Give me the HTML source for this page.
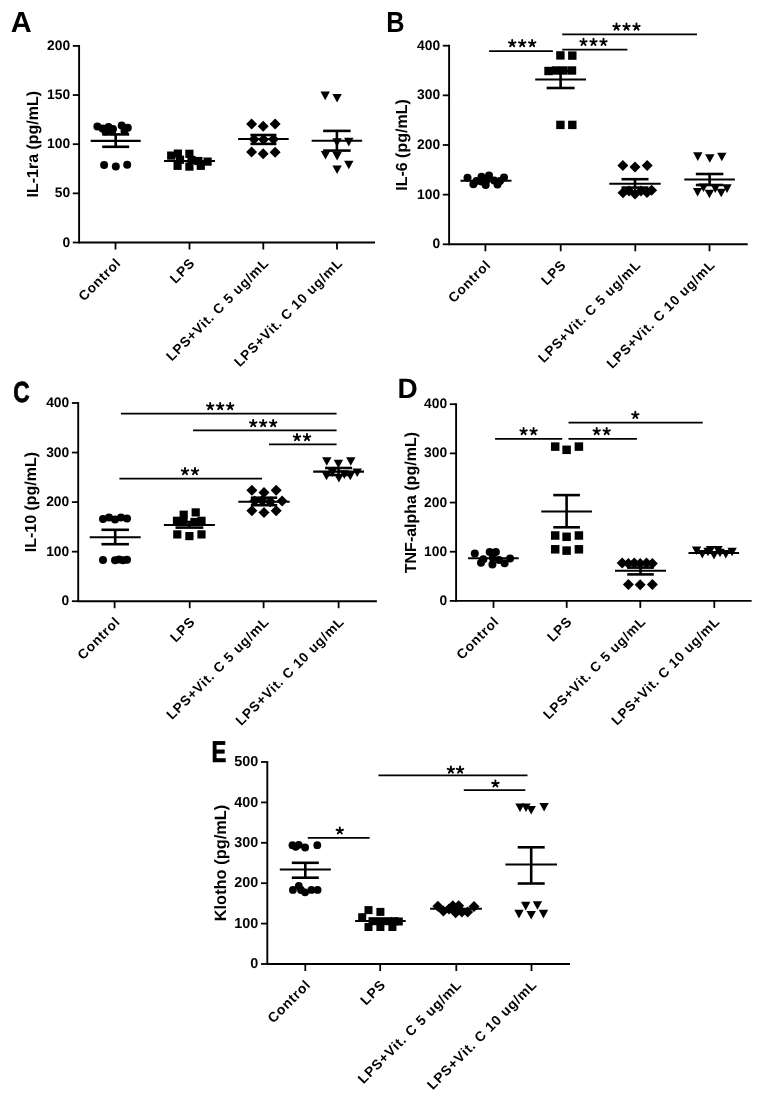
<!DOCTYPE html>
<html><head><meta charset="utf-8"><style>
html,body{margin:0;padding:0;background:#fff;}
svg{display:block;will-change:transform;filter:blur(0.3px);}
text{font-family:"Liberation Sans", sans-serif;fill:#000;stroke:none;text-rendering:geometricPrecision;}
line,.s{stroke:#000;}
</style></head><body>
<svg width="765" height="1100" viewBox="0 0 765 1100" fill="#000" stroke="none">
<rect width="765" height="1100" fill="#fff" stroke="none"/>
<g stroke="none">
</g>
<line x1="79.10" y1="45.00" x2="79.10" y2="243.40" stroke-width="1.9"/>
<line x1="79.10" y1="242.50" x2="375.00" y2="242.50" stroke-width="1.9"/>
<line x1="72.80" y1="242.50" x2="79.10" y2="242.50" stroke-width="1.8"/>
<text x="70.10" y="246.50" font-size="13.8" text-anchor="end" font-weight="bold">0</text>
<line x1="72.80" y1="193.35" x2="79.10" y2="193.35" stroke-width="1.8"/>
<text x="70.10" y="197.35" font-size="13.8" text-anchor="end" font-weight="bold">50</text>
<line x1="72.80" y1="144.20" x2="79.10" y2="144.20" stroke-width="1.8"/>
<text x="70.10" y="148.20" font-size="13.8" text-anchor="end" font-weight="bold">100</text>
<line x1="72.80" y1="95.05" x2="79.10" y2="95.05" stroke-width="1.8"/>
<text x="70.10" y="99.05" font-size="13.8" text-anchor="end" font-weight="bold">150</text>
<line x1="72.80" y1="45.90" x2="79.10" y2="45.90" stroke-width="1.8"/>
<text x="70.10" y="49.90" font-size="13.8" text-anchor="end" font-weight="bold">200</text>
<line x1="115.50" y1="242.50" x2="115.50" y2="249.50" stroke-width="1.8"/>
<line x1="189.50" y1="242.50" x2="189.50" y2="249.50" stroke-width="1.8"/>
<line x1="263.30" y1="242.50" x2="263.30" y2="249.50" stroke-width="1.8"/>
<line x1="337.00" y1="242.50" x2="337.00" y2="249.50" stroke-width="1.8"/>
<text x="121.80" y="263.90" font-size="13.6" text-anchor="end" font-weight="bold" transform="rotate(-45 121.80 263.90)" letter-spacing="0.75">Control</text>
<text x="195.80" y="263.90" font-size="13.6" text-anchor="end" font-weight="bold" transform="rotate(-45 195.80 263.90)" letter-spacing="0.75">LPS</text>
<text x="269.60" y="263.90" font-size="13.6" text-anchor="end" font-weight="bold" transform="rotate(-45 269.60 263.90)" letter-spacing="0.75">LPS+Vit. C 5 ug/mL</text>
<text x="343.30" y="263.90" font-size="13.6" text-anchor="end" font-weight="bold" transform="rotate(-45 343.30 263.90)" letter-spacing="0.75">LPS+Vit. C 10 ug/mL</text>
<text x="38.20" y="144.20" font-size="16" text-anchor="middle" font-weight="bold" transform="rotate(-90 38.20 144.20)">IL-1ra (pg/mL)</text>
<text x="10.80" y="32.00" font-size="29" text-anchor="start" font-weight="bold">A</text>
<line x1="449.10" y1="44.80" x2="449.10" y2="245.20" stroke-width="1.9"/>
<line x1="449.10" y1="244.30" x2="747.70" y2="244.30" stroke-width="1.9"/>
<line x1="442.80" y1="244.30" x2="449.10" y2="244.30" stroke-width="1.8"/>
<text x="440.10" y="248.30" font-size="13.8" text-anchor="end" font-weight="bold">0</text>
<line x1="442.80" y1="194.65" x2="449.10" y2="194.65" stroke-width="1.8"/>
<text x="440.10" y="198.65" font-size="13.8" text-anchor="end" font-weight="bold">100</text>
<line x1="442.80" y1="145.00" x2="449.10" y2="145.00" stroke-width="1.8"/>
<text x="440.10" y="149.00" font-size="13.8" text-anchor="end" font-weight="bold">200</text>
<line x1="442.80" y1="95.35" x2="449.10" y2="95.35" stroke-width="1.8"/>
<text x="440.10" y="99.35" font-size="13.8" text-anchor="end" font-weight="bold">300</text>
<line x1="442.80" y1="45.70" x2="449.10" y2="45.70" stroke-width="1.8"/>
<text x="440.10" y="49.70" font-size="13.8" text-anchor="end" font-weight="bold">400</text>
<line x1="485.40" y1="244.30" x2="485.40" y2="251.30" stroke-width="1.8"/>
<line x1="560.70" y1="244.30" x2="560.70" y2="251.30" stroke-width="1.8"/>
<line x1="635.30" y1="244.30" x2="635.30" y2="251.30" stroke-width="1.8"/>
<line x1="709.50" y1="244.30" x2="709.50" y2="251.30" stroke-width="1.8"/>
<text x="491.70" y="265.70" font-size="13.6" text-anchor="end" font-weight="bold" transform="rotate(-45 491.70 265.70)" letter-spacing="0.75">Control</text>
<text x="567.00" y="265.70" font-size="13.6" text-anchor="end" font-weight="bold" transform="rotate(-45 567.00 265.70)" letter-spacing="0.75">LPS</text>
<text x="641.60" y="265.70" font-size="13.6" text-anchor="end" font-weight="bold" transform="rotate(-45 641.60 265.70)" letter-spacing="0.75">LPS+Vit. C 5 ug/mL</text>
<text x="715.80" y="265.70" font-size="13.6" text-anchor="end" font-weight="bold" transform="rotate(-45 715.80 265.70)" letter-spacing="0.75">LPS+Vit. C 10 ug/mL</text>
<text x="406.60" y="145.00" font-size="16" text-anchor="middle" font-weight="bold" transform="rotate(-90 406.60 145.00)">IL-6 (pg/mL)</text>
<text transform="translate(386.30 32.00) scale(0.87 1)" font-size="29" font-weight="bold">B</text>
<line x1="78.20" y1="402.10" x2="78.20" y2="602.10" stroke-width="1.9"/>
<line x1="78.20" y1="601.20" x2="376.90" y2="601.20" stroke-width="1.9"/>
<line x1="71.90" y1="601.20" x2="78.20" y2="601.20" stroke-width="1.8"/>
<text x="69.20" y="605.20" font-size="13.8" text-anchor="end" font-weight="bold">0</text>
<line x1="71.90" y1="551.65" x2="78.20" y2="551.65" stroke-width="1.8"/>
<text x="69.20" y="555.65" font-size="13.8" text-anchor="end" font-weight="bold">100</text>
<line x1="71.90" y1="502.10" x2="78.20" y2="502.10" stroke-width="1.8"/>
<text x="69.20" y="506.10" font-size="13.8" text-anchor="end" font-weight="bold">200</text>
<line x1="71.90" y1="452.55" x2="78.20" y2="452.55" stroke-width="1.8"/>
<text x="69.20" y="456.55" font-size="13.8" text-anchor="end" font-weight="bold">300</text>
<line x1="71.90" y1="403.00" x2="78.20" y2="403.00" stroke-width="1.8"/>
<text x="69.20" y="407.00" font-size="13.8" text-anchor="end" font-weight="bold">400</text>
<line x1="114.60" y1="601.20" x2="114.60" y2="608.20" stroke-width="1.8"/>
<line x1="189.70" y1="601.20" x2="189.70" y2="608.20" stroke-width="1.8"/>
<line x1="263.60" y1="601.20" x2="263.60" y2="608.20" stroke-width="1.8"/>
<line x1="338.60" y1="601.20" x2="338.60" y2="608.20" stroke-width="1.8"/>
<text x="120.90" y="622.60" font-size="13.6" text-anchor="end" font-weight="bold" transform="rotate(-45 120.90 622.60)" letter-spacing="0.75">Control</text>
<text x="196.00" y="622.60" font-size="13.6" text-anchor="end" font-weight="bold" transform="rotate(-45 196.00 622.60)" letter-spacing="0.75">LPS</text>
<text x="269.90" y="622.60" font-size="13.6" text-anchor="end" font-weight="bold" transform="rotate(-45 269.90 622.60)" letter-spacing="0.75">LPS+Vit. C 5 ug/mL</text>
<text x="344.90" y="622.60" font-size="13.6" text-anchor="end" font-weight="bold" transform="rotate(-45 344.90 622.60)" letter-spacing="0.75">LPS+Vit. C 10 ug/mL</text>
<text x="36.40" y="502.10" font-size="16" text-anchor="middle" font-weight="bold" transform="rotate(-90 36.40 502.10)">IL-10 (pg/mL)</text>
<text transform="translate(13.20 401.50) scale(0.78 1)" font-size="29" font-weight="bold" style="stroke:#000;stroke-width:0.8px">C</text>
<line x1="456.10" y1="403.30" x2="456.10" y2="601.80" stroke-width="1.9"/>
<line x1="456.10" y1="600.90" x2="751.60" y2="600.90" stroke-width="1.9"/>
<line x1="449.80" y1="600.90" x2="456.10" y2="600.90" stroke-width="1.8"/>
<text x="447.10" y="604.90" font-size="13.8" text-anchor="end" font-weight="bold">0</text>
<line x1="449.80" y1="551.73" x2="456.10" y2="551.73" stroke-width="1.8"/>
<text x="447.10" y="555.73" font-size="13.8" text-anchor="end" font-weight="bold">100</text>
<line x1="449.80" y1="502.55" x2="456.10" y2="502.55" stroke-width="1.8"/>
<text x="447.10" y="506.55" font-size="13.8" text-anchor="end" font-weight="bold">200</text>
<line x1="449.80" y1="453.38" x2="456.10" y2="453.38" stroke-width="1.8"/>
<text x="447.10" y="457.38" font-size="13.8" text-anchor="end" font-weight="bold">300</text>
<line x1="449.80" y1="404.20" x2="456.10" y2="404.20" stroke-width="1.8"/>
<text x="447.10" y="408.20" font-size="13.8" text-anchor="end" font-weight="bold">400</text>
<line x1="493.50" y1="600.90" x2="493.50" y2="607.90" stroke-width="1.8"/>
<line x1="566.70" y1="600.90" x2="566.70" y2="607.90" stroke-width="1.8"/>
<line x1="640.30" y1="600.90" x2="640.30" y2="607.90" stroke-width="1.8"/>
<line x1="714.30" y1="600.90" x2="714.30" y2="607.90" stroke-width="1.8"/>
<text x="499.80" y="622.30" font-size="13.6" text-anchor="end" font-weight="bold" transform="rotate(-45 499.80 622.30)" letter-spacing="0.75">Control</text>
<text x="573.00" y="622.30" font-size="13.6" text-anchor="end" font-weight="bold" transform="rotate(-45 573.00 622.30)" letter-spacing="0.75">LPS</text>
<text x="646.60" y="622.30" font-size="13.6" text-anchor="end" font-weight="bold" transform="rotate(-45 646.60 622.30)" letter-spacing="0.75">LPS+Vit. C 5 ug/mL</text>
<text x="720.60" y="622.30" font-size="13.6" text-anchor="end" font-weight="bold" transform="rotate(-45 720.60 622.30)" letter-spacing="0.75">LPS+Vit. C 10 ug/mL</text>
<text x="415.90" y="502.55" font-size="16" text-anchor="middle" font-weight="bold" transform="rotate(-90 415.90 502.55)">TNF-alpha (pg/mL)</text>
<text x="397.60" y="397.70" font-size="28" text-anchor="start" font-weight="bold">D</text>
<line x1="267.30" y1="761.10" x2="267.30" y2="964.90" stroke-width="1.9"/>
<line x1="267.30" y1="964.00" x2="570.00" y2="964.00" stroke-width="1.9"/>
<line x1="261.00" y1="964.00" x2="267.30" y2="964.00" stroke-width="1.8"/>
<text x="258.30" y="968.18" font-size="14.4" text-anchor="end" font-weight="bold">0</text>
<line x1="261.00" y1="923.60" x2="267.30" y2="923.60" stroke-width="1.8"/>
<text x="258.30" y="927.78" font-size="14.4" text-anchor="end" font-weight="bold">100</text>
<line x1="261.00" y1="883.20" x2="267.30" y2="883.20" stroke-width="1.8"/>
<text x="258.30" y="887.38" font-size="14.4" text-anchor="end" font-weight="bold">200</text>
<line x1="261.00" y1="842.80" x2="267.30" y2="842.80" stroke-width="1.8"/>
<text x="258.30" y="846.98" font-size="14.4" text-anchor="end" font-weight="bold">300</text>
<line x1="261.00" y1="802.40" x2="267.30" y2="802.40" stroke-width="1.8"/>
<text x="258.30" y="806.58" font-size="14.4" text-anchor="end" font-weight="bold">400</text>
<line x1="261.00" y1="762.00" x2="267.30" y2="762.00" stroke-width="1.8"/>
<text x="258.30" y="766.18" font-size="14.4" text-anchor="end" font-weight="bold">500</text>
<line x1="305.30" y1="964.00" x2="305.30" y2="971.00" stroke-width="1.8"/>
<line x1="380.20" y1="964.00" x2="380.20" y2="971.00" stroke-width="1.8"/>
<line x1="456.30" y1="964.00" x2="456.30" y2="971.00" stroke-width="1.8"/>
<line x1="531.50" y1="964.00" x2="531.50" y2="971.00" stroke-width="1.8"/>
<text x="311.60" y="985.40" font-size="13.8" text-anchor="end" font-weight="bold" transform="rotate(-45 311.60 985.40)" letter-spacing="0.75">Control</text>
<text x="386.50" y="985.40" font-size="13.8" text-anchor="end" font-weight="bold" transform="rotate(-45 386.50 985.40)" letter-spacing="0.75">LPS</text>
<text x="462.60" y="985.40" font-size="13.8" text-anchor="end" font-weight="bold" transform="rotate(-45 462.60 985.40)" letter-spacing="0.75">LPS+Vit. C 5 ug/mL</text>
<text x="537.80" y="985.40" font-size="13.8" text-anchor="end" font-weight="bold" transform="rotate(-45 537.80 985.40)" letter-spacing="0.75">LPS+Vit. C 10 ug/mL</text>
<text x="225.60" y="863.00" font-size="16.4" text-anchor="middle" font-weight="bold" transform="rotate(-90 225.60 863.00)">Klotho (pg/mL)</text>
<text transform="translate(211.40 761.80) scale(0.74 1)" font-size="30" font-weight="bold" style="stroke:#000;stroke-width:0.7px">E</text>
<circle cx="97.40" cy="126.50" r="4.0"/>
<circle cx="102.50" cy="128.50" r="4.0"/>
<circle cx="108.50" cy="127.00" r="4.0"/>
<circle cx="113.00" cy="129.00" r="4.0"/>
<circle cx="121.70" cy="125.50" r="4.0"/>
<circle cx="127.80" cy="127.80" r="4.0"/>
<circle cx="105.50" cy="131.50" r="4.0"/>
<circle cx="112.00" cy="131.50" r="4.0"/>
<circle cx="124.50" cy="131.00" r="4.0"/>
<circle cx="104.10" cy="165.00" r="4.0"/>
<circle cx="115.80" cy="166.40" r="4.0"/>
<circle cx="127.20" cy="164.80" r="4.0"/>
<line x1="90.70" y1="140.90" x2="140.70" y2="140.90" stroke-width="2.1"/>
<line x1="102.20" y1="134.40" x2="129.20" y2="134.40" stroke-width="2.6"/>
<line x1="102.20" y1="146.80" x2="129.20" y2="146.80" stroke-width="2.6"/>
<line x1="115.70" y1="134.40" x2="115.70" y2="146.80" stroke-width="2.6"/>
<rect x="167.10" y="151.50" width="8.2" height="8.2"/>
<rect x="173.80" y="149.50" width="8.2" height="8.2"/>
<rect x="173.50" y="161.70" width="8.2" height="8.2"/>
<rect x="185.30" y="149.70" width="8.2" height="8.2"/>
<rect x="185.30" y="162.50" width="8.2" height="8.2"/>
<rect x="196.70" y="161.70" width="8.2" height="8.2"/>
<rect x="203.50" y="157.50" width="8.2" height="8.2"/>
<rect x="194.30" y="156.90" width="8.2" height="8.2"/>
<rect x="175.90" y="155.60" width="8.2" height="8.2"/>
<rect x="187.40" y="155.90" width="8.2" height="8.2"/>
<line x1="164.00" y1="160.90" x2="215.00" y2="160.90" stroke-width="2.0"/>
<path d="M251.60 118.60L257.10 124.10L251.60 129.60L246.10 124.10Z"/>
<path d="M263.20 120.70L268.70 126.20L263.20 131.70L257.70 126.20Z"/>
<path d="M275.10 118.60L280.60 124.10L275.10 129.60L269.60 124.10Z"/>
<path d="M251.60 146.50L257.10 152.00L251.60 157.50L246.10 152.00Z"/>
<path d="M263.20 148.30L268.70 153.80L263.20 159.30L257.70 153.80Z"/>
<path d="M275.10 146.70L280.60 152.20L275.10 157.70L269.60 152.20Z"/>
<path d="M254.00 133.70L259.50 139.20L254.00 144.70L248.50 139.20Z"/>
<path d="M263.50 134.00L269.00 139.50L263.50 145.00L258.00 139.50Z"/>
<path d="M273.50 133.70L279.00 139.20L273.50 144.70L268.00 139.20Z"/>
<line x1="238.10" y1="139.00" x2="288.70" y2="139.00" stroke-width="2.1"/>
<line x1="250.40" y1="135.00" x2="276.40" y2="135.00" stroke-width="2.6"/>
<line x1="250.40" y1="143.90" x2="276.40" y2="143.90" stroke-width="2.6"/>
<line x1="263.40" y1="135.00" x2="263.40" y2="143.90" stroke-width="2.6"/>
<path d="M320.50 91.60L329.90 91.60L325.20 100.20Z"/>
<path d="M332.40 93.90L341.80 93.90L337.10 102.50Z"/>
<path d="M344.10 137.80L353.50 137.80L348.80 146.40Z"/>
<path d="M332.30 138.20L341.70 138.20L337.00 146.80Z"/>
<path d="M320.80 151.00L330.20 151.00L325.50 159.60Z"/>
<path d="M332.40 152.00L341.80 152.00L337.10 160.60Z"/>
<path d="M344.10 160.70L353.50 160.70L348.80 169.30Z"/>
<path d="M332.40 165.40L341.80 165.40L337.10 174.00Z"/>
<line x1="311.65" y1="140.80" x2="362.15" y2="140.80" stroke-width="2.1"/>
<line x1="323.15" y1="130.90" x2="350.65" y2="130.90" stroke-width="2.6"/>
<line x1="323.15" y1="150.60" x2="350.65" y2="150.60" stroke-width="2.6"/>
<line x1="336.90" y1="130.90" x2="336.90" y2="150.60" stroke-width="2.6"/>
<circle cx="467.50" cy="177.80" r="4.0"/>
<circle cx="481.50" cy="176.80" r="4.0"/>
<circle cx="489.00" cy="175.60" r="4.0"/>
<circle cx="504.00" cy="177.40" r="4.0"/>
<circle cx="473.40" cy="184.20" r="4.0"/>
<circle cx="485.70" cy="185.10" r="4.0"/>
<circle cx="497.50" cy="184.60" r="4.0"/>
<circle cx="486.40" cy="180.40" r="4.0"/>
<circle cx="494.20" cy="180.40" r="4.0"/>
<circle cx="476.50" cy="181.00" r="4.0"/>
<circle cx="481.50" cy="181.50" r="4.0"/>
<circle cx="500.00" cy="181.00" r="4.0"/>
<line x1="460.50" y1="180.80" x2="511.50" y2="180.80" stroke-width="2.0"/>
<rect x="556.20" y="51.20" width="8.4" height="8.4"/>
<rect x="568.10" y="51.40" width="8.4" height="8.4"/>
<rect x="544.30" y="66.80" width="8.4" height="8.4"/>
<rect x="551.80" y="66.30" width="8.4" height="8.4"/>
<rect x="559.30" y="66.30" width="8.4" height="8.4"/>
<rect x="567.80" y="66.30" width="8.4" height="8.4"/>
<rect x="556.20" y="120.70" width="8.4" height="8.4"/>
<rect x="568.10" y="120.70" width="8.4" height="8.4"/>
<line x1="535.20" y1="79.50" x2="586.00" y2="79.50" stroke-width="2.1"/>
<line x1="546.60" y1="71.00" x2="574.60" y2="71.00" stroke-width="2.6"/>
<line x1="546.60" y1="88.00" x2="574.60" y2="88.00" stroke-width="2.6"/>
<line x1="560.60" y1="71.00" x2="560.60" y2="88.00" stroke-width="2.6"/>
<path d="M622.90 160.00L628.40 165.50L622.90 171.00L617.40 165.50Z"/>
<path d="M635.00 161.60L640.50 167.10L635.00 172.60L629.50 167.10Z"/>
<path d="M647.20 160.00L652.70 165.50L647.20 171.00L641.70 165.50Z"/>
<path d="M623.00 187.30L628.50 192.80L623.00 198.30L617.50 192.80Z"/>
<path d="M629.00 185.50L634.50 191.00L629.00 196.50L623.50 191.00Z"/>
<path d="M635.00 188.50L640.50 194.00L635.00 199.50L629.50 194.00Z"/>
<path d="M641.00 185.50L646.50 191.00L641.00 196.50L635.50 191.00Z"/>
<path d="M647.00 187.00L652.50 192.50L647.00 198.00L641.50 192.50Z"/>
<path d="M651.60 184.70L657.10 190.20L651.60 195.70L646.10 190.20Z"/>
<line x1="609.30" y1="183.70" x2="660.70" y2="183.70" stroke-width="2.1"/>
<line x1="621.50" y1="179.20" x2="648.50" y2="179.20" stroke-width="2.6"/>
<line x1="621.50" y1="187.60" x2="648.50" y2="187.60" stroke-width="2.6"/>
<line x1="635.00" y1="179.20" x2="635.00" y2="187.60" stroke-width="2.6"/>
<path d="M693.10 152.30L702.50 152.30L697.80 160.90Z"/>
<path d="M705.10 154.20L714.50 154.20L709.80 162.80Z"/>
<path d="M717.10 152.70L726.50 152.70L721.80 161.30Z"/>
<path d="M692.90 187.90L702.30 187.90L697.60 196.50Z"/>
<path d="M704.70 189.70L714.10 189.70L709.40 198.30Z"/>
<path d="M716.50 188.70L725.90 188.70L721.20 197.30Z"/>
<path d="M722.30 184.30L731.70 184.30L727.00 192.90Z"/>
<path d="M698.80 183.50L708.20 183.50L703.50 192.10Z"/>
<path d="M710.60 184.30L720.00 184.30L715.30 192.90Z"/>
<line x1="684.30" y1="179.50" x2="734.90" y2="179.50" stroke-width="2.1"/>
<line x1="695.85" y1="174.00" x2="723.35" y2="174.00" stroke-width="2.6"/>
<line x1="695.85" y1="185.00" x2="723.35" y2="185.00" stroke-width="2.6"/>
<line x1="709.60" y1="174.00" x2="709.60" y2="185.00" stroke-width="2.6"/>
<line x1="489.10" y1="51.10" x2="552.90" y2="51.10" stroke-width="1.7"/>
<path class="s" d="M512.20 43.40L512.20 40.00M512.20 43.40L515.43 42.35M512.20 43.40L514.20 46.15M512.20 43.40L510.20 46.15M512.20 43.40L508.97 42.35" fill="none" stroke-width="1.9" stroke-linecap="round"/>
<path class="s" d="M522.20 43.40L522.20 40.00M522.20 43.40L525.43 42.35M522.20 43.40L524.20 46.15M522.20 43.40L520.20 46.15M522.20 43.40L518.97 42.35" fill="none" stroke-width="1.9" stroke-linecap="round"/>
<path class="s" d="M532.20 43.40L532.20 40.00M532.20 43.40L535.43 42.35M532.20 43.40L534.20 46.15M532.20 43.40L530.20 46.15M532.20 43.40L528.97 42.35" fill="none" stroke-width="1.9" stroke-linecap="round"/>
<line x1="562.20" y1="49.60" x2="627.40" y2="49.60" stroke-width="1.7"/>
<path class="s" d="M583.50 42.20L583.50 38.80M583.50 42.20L586.73 41.15M583.50 42.20L585.50 44.95M583.50 42.20L581.50 44.95M583.50 42.20L580.27 41.15" fill="none" stroke-width="1.9" stroke-linecap="round"/>
<path class="s" d="M593.50 42.20L593.50 38.80M593.50 42.20L596.73 41.15M593.50 42.20L595.50 44.95M593.50 42.20L591.50 44.95M593.50 42.20L590.27 41.15" fill="none" stroke-width="1.9" stroke-linecap="round"/>
<path class="s" d="M603.50 42.20L603.50 38.80M603.50 42.20L606.73 41.15M603.50 42.20L605.50 44.95M603.50 42.20L601.50 44.95M603.50 42.20L600.27 41.15" fill="none" stroke-width="1.9" stroke-linecap="round"/>
<line x1="562.20" y1="34.40" x2="697.00" y2="34.40" stroke-width="1.7"/>
<path class="s" d="M616.50 26.90L616.50 23.50M616.50 26.90L619.73 25.85M616.50 26.90L618.50 29.65M616.50 26.90L614.50 29.65M616.50 26.90L613.27 25.85" fill="none" stroke-width="1.9" stroke-linecap="round"/>
<path class="s" d="M626.50 26.90L626.50 23.50M626.50 26.90L629.73 25.85M626.50 26.90L628.50 29.65M626.50 26.90L624.50 29.65M626.50 26.90L623.27 25.85" fill="none" stroke-width="1.9" stroke-linecap="round"/>
<path class="s" d="M636.50 26.90L636.50 23.50M636.50 26.90L639.73 25.85M636.50 26.90L638.50 29.65M636.50 26.90L634.50 29.65M636.50 26.90L633.27 25.85" fill="none" stroke-width="1.9" stroke-linecap="round"/>
<circle cx="103.00" cy="519.00" r="4.0"/>
<circle cx="109.00" cy="517.60" r="4.0"/>
<circle cx="115.00" cy="519.40" r="4.0"/>
<circle cx="121.00" cy="517.60" r="4.0"/>
<circle cx="127.00" cy="518.60" r="4.0"/>
<circle cx="103.00" cy="560.00" r="4.0"/>
<circle cx="115.00" cy="560.30" r="4.0"/>
<circle cx="119.00" cy="559.60" r="4.0"/>
<circle cx="123.00" cy="560.30" r="4.0"/>
<circle cx="127.00" cy="559.80" r="4.0"/>
<line x1="89.70" y1="537.20" x2="140.70" y2="537.20" stroke-width="2.1"/>
<line x1="101.45" y1="529.80" x2="128.95" y2="529.80" stroke-width="2.6"/>
<line x1="101.45" y1="544.20" x2="128.95" y2="544.20" stroke-width="2.6"/>
<line x1="115.20" y1="529.80" x2="115.20" y2="544.20" stroke-width="2.6"/>
<rect x="179.60" y="510.60" width="8.2" height="8.2"/>
<rect x="191.60" y="508.30" width="8.2" height="8.2"/>
<rect x="172.90" y="516.70" width="8.2" height="8.2"/>
<rect x="197.40" y="516.70" width="8.2" height="8.2"/>
<rect x="179.40" y="517.90" width="8.2" height="8.2"/>
<rect x="190.40" y="517.90" width="8.2" height="8.2"/>
<rect x="173.20" y="530.30" width="8.2" height="8.2"/>
<rect x="185.30" y="532.00" width="8.2" height="8.2"/>
<rect x="197.40" y="530.30" width="8.2" height="8.2"/>
<line x1="163.90" y1="525.00" x2="214.90" y2="525.00" stroke-width="2.1"/>
<line x1="175.50" y1="522.00" x2="203.30" y2="522.00" stroke-width="2.6"/>
<line x1="175.50" y1="527.60" x2="203.30" y2="527.60" stroke-width="2.6"/>
<line x1="189.40" y1="522.00" x2="189.40" y2="527.60" stroke-width="2.6"/>
<path d="M251.90 484.80L257.40 490.30L251.90 495.80L246.40 490.30Z"/>
<path d="M264.00 487.10L269.50 492.60L264.00 498.10L258.50 492.60Z"/>
<path d="M276.20 484.80L281.70 490.30L276.20 495.80L270.70 490.30Z"/>
<path d="M282.10 495.40L287.60 500.90L282.10 506.40L276.60 500.90Z"/>
<path d="M251.90 505.20L257.40 510.70L251.90 516.20L246.40 510.70Z"/>
<path d="M264.00 507.10L269.50 512.60L264.00 518.10L258.50 512.60Z"/>
<path d="M276.20 505.20L281.70 510.70L276.20 516.20L270.70 510.70Z"/>
<path d="M254.60 495.40L260.10 500.90L254.60 506.40L249.10 500.90Z"/>
<path d="M270.30 496.20L275.80 501.70L270.30 507.20L264.80 501.70Z"/>
<path d="M262.00 495.00L267.50 500.50L262.00 506.00L256.50 500.50Z"/>
<line x1="238.30" y1="501.70" x2="289.70" y2="501.70" stroke-width="2.1"/>
<line x1="250.80" y1="497.70" x2="277.20" y2="497.70" stroke-width="2.6"/>
<line x1="250.80" y1="505.20" x2="277.20" y2="505.20" stroke-width="2.6"/>
<line x1="264.00" y1="497.70" x2="264.00" y2="505.20" stroke-width="2.6"/>
<path d="M322.10 457.20L331.50 457.20L326.80 465.80Z"/>
<path d="M333.70 459.70L343.10 459.70L338.40 468.30Z"/>
<path d="M346.10 457.20L355.50 457.20L350.80 465.80Z"/>
<path d="M321.80 471.70L331.20 471.70L326.50 480.30Z"/>
<path d="M334.20 473.90L343.60 473.90L338.90 482.50Z"/>
<path d="M345.60 471.70L355.00 471.70L350.30 480.30Z"/>
<path d="M327.70 468.40L337.10 468.40L332.40 477.00Z"/>
<path d="M339.60 470.30L349.00 470.30L344.30 478.90Z"/>
<path d="M352.50 468.40L361.90 468.40L357.20 477.00Z"/>
<line x1="313.20" y1="471.60" x2="364.00" y2="471.60" stroke-width="2.1"/>
<line x1="325.10" y1="468.00" x2="352.10" y2="468.00" stroke-width="2.6"/>
<line x1="325.10" y1="475.00" x2="352.10" y2="475.00" stroke-width="2.6"/>
<line x1="338.60" y1="468.00" x2="338.60" y2="475.00" stroke-width="2.6"/>
<line x1="121.00" y1="413.60" x2="336.60" y2="413.60" stroke-width="1.7"/>
<path class="s" d="M210.20 406.40L210.20 403.00M210.20 406.40L213.43 405.35M210.20 406.40L212.20 409.15M210.20 406.40L208.20 409.15M210.20 406.40L206.97 405.35" fill="none" stroke-width="1.9" stroke-linecap="round"/>
<path class="s" d="M220.20 406.40L220.20 403.00M220.20 406.40L223.43 405.35M220.20 406.40L222.20 409.15M220.20 406.40L218.20 409.15M220.20 406.40L216.97 405.35" fill="none" stroke-width="1.9" stroke-linecap="round"/>
<path class="s" d="M230.20 406.40L230.20 403.00M230.20 406.40L233.43 405.35M230.20 406.40L232.20 409.15M230.20 406.40L228.20 409.15M230.20 406.40L226.97 405.35" fill="none" stroke-width="1.9" stroke-linecap="round"/>
<line x1="193.10" y1="430.40" x2="336.60" y2="430.40" stroke-width="1.7"/>
<path class="s" d="M253.20 423.40L253.20 420.00M253.20 423.40L256.43 422.35M253.20 423.40L255.20 426.15M253.20 423.40L251.20 426.15M253.20 423.40L249.97 422.35" fill="none" stroke-width="1.9" stroke-linecap="round"/>
<path class="s" d="M263.20 423.40L263.20 420.00M263.20 423.40L266.43 422.35M263.20 423.40L265.20 426.15M263.20 423.40L261.20 426.15M263.20 423.40L259.97 422.35" fill="none" stroke-width="1.9" stroke-linecap="round"/>
<path class="s" d="M273.20 423.40L273.20 420.00M273.20 423.40L276.43 422.35M273.20 423.40L275.20 426.15M273.20 423.40L271.20 426.15M273.20 423.40L269.97 422.35" fill="none" stroke-width="1.9" stroke-linecap="round"/>
<line x1="269.00" y1="444.30" x2="336.60" y2="444.30" stroke-width="1.7"/>
<path class="s" d="M297.00 437.40L297.00 434.00M297.00 437.40L300.23 436.35M297.00 437.40L299.00 440.15M297.00 437.40L295.00 440.15M297.00 437.40L293.77 436.35" fill="none" stroke-width="1.9" stroke-linecap="round"/>
<path class="s" d="M307.00 437.40L307.00 434.00M307.00 437.40L310.23 436.35M307.00 437.40L309.00 440.15M307.00 437.40L305.00 440.15M307.00 437.40L303.77 436.35" fill="none" stroke-width="1.9" stroke-linecap="round"/>
<line x1="119.40" y1="478.70" x2="262.00" y2="478.70" stroke-width="1.7"/>
<path class="s" d="M185.00 471.40L185.00 468.00M185.00 471.40L188.23 470.35M185.00 471.40L187.00 474.15M185.00 471.40L183.00 474.15M185.00 471.40L181.77 470.35" fill="none" stroke-width="1.9" stroke-linecap="round"/>
<path class="s" d="M195.00 471.40L195.00 468.00M195.00 471.40L198.23 470.35M195.00 471.40L197.00 474.15M195.00 471.40L193.00 474.15M195.00 471.40L191.77 470.35" fill="none" stroke-width="1.9" stroke-linecap="round"/>
<circle cx="474.80" cy="553.40" r="4.0"/>
<circle cx="489.70" cy="551.90" r="4.0"/>
<circle cx="495.90" cy="551.90" r="4.0"/>
<circle cx="510.10" cy="558.50" r="4.0"/>
<circle cx="481.00" cy="562.80" r="4.0"/>
<circle cx="492.40" cy="564.40" r="4.0"/>
<circle cx="504.60" cy="563.20" r="4.0"/>
<circle cx="492.80" cy="557.70" r="4.0"/>
<circle cx="483.40" cy="559.30" r="4.0"/>
<circle cx="499.00" cy="560.00" r="4.0"/>
<line x1="468.10" y1="558.30" x2="518.70" y2="558.30" stroke-width="2.0"/>
<rect x="550.95" y="442.35" width="8.5" height="8.5"/>
<rect x="562.35" y="445.55" width="8.5" height="8.5"/>
<rect x="574.65" y="442.35" width="8.5" height="8.5"/>
<rect x="550.95" y="531.25" width="8.5" height="8.5"/>
<rect x="562.35" y="532.55" width="8.5" height="8.5"/>
<rect x="574.65" y="531.25" width="8.5" height="8.5"/>
<rect x="550.95" y="545.05" width="8.5" height="8.5"/>
<rect x="562.35" y="546.35" width="8.5" height="8.5"/>
<rect x="574.65" y="545.05" width="8.5" height="8.5"/>
<line x1="541.25" y1="511.50" x2="591.95" y2="511.50" stroke-width="2.1"/>
<line x1="553.25" y1="495.10" x2="579.95" y2="495.10" stroke-width="2.6"/>
<line x1="553.25" y1="527.30" x2="579.95" y2="527.30" stroke-width="2.6"/>
<line x1="566.60" y1="495.10" x2="566.60" y2="527.30" stroke-width="2.6"/>
<path d="M622.20 557.50L627.70 563.00L622.20 568.50L616.70 563.00Z"/>
<path d="M628.40 558.00L633.90 563.50L628.40 569.00L622.90 563.50Z"/>
<path d="M634.30 557.50L639.80 563.00L634.30 568.50L628.80 563.00Z"/>
<path d="M640.20 558.00L645.70 563.50L640.20 569.00L634.70 563.50Z"/>
<path d="M646.50 557.50L652.00 563.00L646.50 568.50L641.00 563.00Z"/>
<path d="M652.40 558.00L657.90 563.50L652.40 569.00L646.90 563.50Z"/>
<path d="M628.40 579.10L633.90 584.60L628.40 590.10L622.90 584.60Z"/>
<path d="M640.20 579.30L645.70 584.80L640.20 590.30L634.70 584.80Z"/>
<path d="M652.40 579.00L657.90 584.50L652.40 590.00L646.90 584.50Z"/>
<line x1="615.00" y1="570.70" x2="666.00" y2="570.70" stroke-width="2.1"/>
<line x1="627.20" y1="567.60" x2="653.80" y2="567.60" stroke-width="2.6"/>
<line x1="627.20" y1="574.40" x2="653.80" y2="574.40" stroke-width="2.6"/>
<line x1="640.50" y1="567.60" x2="640.50" y2="574.40" stroke-width="2.6"/>
<path d="M691.90 546.50L701.30 546.50L696.60 555.10Z"/>
<path d="M705.80 546.00L715.20 546.00L710.50 554.60Z"/>
<path d="M713.30 546.00L722.70 546.00L718.00 554.60Z"/>
<path d="M697.60 549.90L707.00 549.90L702.30 558.50Z"/>
<path d="M703.30 547.70L712.70 547.70L708.00 556.30Z"/>
<path d="M709.30 550.90L718.70 550.90L714.00 559.50Z"/>
<path d="M715.30 548.70L724.70 548.70L720.00 557.30Z"/>
<path d="M721.10 549.90L730.50 549.90L725.80 558.50Z"/>
<path d="M727.40 547.70L736.80 547.70L732.10 556.30Z"/>
<line x1="688.50" y1="553.00" x2="739.10" y2="553.00" stroke-width="2.0"/>
<line x1="495.10" y1="438.90" x2="562.20" y2="438.90" stroke-width="1.7"/>
<path class="s" d="M523.60 431.40L523.60 428.00M523.60 431.40L526.83 430.35M523.60 431.40L525.60 434.15M523.60 431.40L521.60 434.15M523.60 431.40L520.37 430.35" fill="none" stroke-width="1.9" stroke-linecap="round"/>
<path class="s" d="M533.60 431.40L533.60 428.00M533.60 431.40L536.83 430.35M533.60 431.40L535.60 434.15M533.60 431.40L531.60 434.15M533.60 431.40L530.37 430.35" fill="none" stroke-width="1.9" stroke-linecap="round"/>
<line x1="568.50" y1="438.90" x2="636.90" y2="438.90" stroke-width="1.7"/>
<path class="s" d="M596.70 431.40L596.70 428.00M596.70 431.40L599.93 430.35M596.70 431.40L598.70 434.15M596.70 431.40L594.70 434.15M596.70 431.40L593.47 430.35" fill="none" stroke-width="1.9" stroke-linecap="round"/>
<path class="s" d="M606.70 431.40L606.70 428.00M606.70 431.40L609.93 430.35M606.70 431.40L608.70 434.15M606.70 431.40L604.70 434.15M606.70 431.40L603.47 430.35" fill="none" stroke-width="1.9" stroke-linecap="round"/>
<line x1="568.50" y1="422.60" x2="702.70" y2="422.60" stroke-width="1.7"/>
<path class="s" d="M635.30 415.20L635.30 411.80M635.30 415.20L638.53 414.15M635.30 415.20L637.30 417.95M635.30 415.20L633.30 417.95M635.30 415.20L632.07 414.15" fill="none" stroke-width="1.9" stroke-linecap="round"/>
<circle cx="292.50" cy="845.20" r="3.9"/>
<circle cx="298.80" cy="844.80" r="3.9"/>
<circle cx="305.10" cy="847.50" r="3.9"/>
<circle cx="317.30" cy="845.20" r="3.9"/>
<circle cx="295.70" cy="846.80" r="3.9"/>
<circle cx="292.90" cy="889.90" r="3.9"/>
<circle cx="298.80" cy="886.00" r="3.9"/>
<circle cx="305.10" cy="892.30" r="3.9"/>
<circle cx="311.40" cy="889.90" r="3.9"/>
<circle cx="317.60" cy="889.90" r="3.9"/>
<circle cx="301.00" cy="890.00" r="3.9"/>
<line x1="279.80" y1="869.50" x2="330.80" y2="869.50" stroke-width="2.1"/>
<line x1="291.80" y1="862.80" x2="318.80" y2="862.80" stroke-width="2.6"/>
<line x1="291.80" y1="877.70" x2="318.80" y2="877.70" stroke-width="2.6"/>
<line x1="305.30" y1="862.80" x2="305.30" y2="877.70" stroke-width="2.6"/>
<rect x="364.50" y="906.10" width="8.0" height="8.0"/>
<rect x="376.40" y="907.90" width="8.0" height="8.0"/>
<rect x="358.20" y="913.20" width="8.0" height="8.0"/>
<rect x="394.80" y="917.50" width="8.0" height="8.0"/>
<rect x="364.50" y="923.00" width="8.0" height="8.0"/>
<rect x="376.40" y="923.00" width="8.0" height="8.0"/>
<rect x="388.40" y="923.00" width="8.0" height="8.0"/>
<rect x="368.50" y="917.20" width="8.0" height="8.0"/>
<rect x="376.00" y="917.20" width="8.0" height="8.0"/>
<rect x="384.00" y="917.20" width="8.0" height="8.0"/>
<rect x="390.50" y="917.20" width="8.0" height="8.0"/>
<line x1="355.10" y1="921.10" x2="405.70" y2="921.10" stroke-width="2.0"/>
<path d="M437.90 900.70L443.40 906.20L437.90 911.70L432.40 906.20Z"/>
<path d="M452.80 900.30L458.30 905.80L452.80 911.30L447.30 905.80Z"/>
<path d="M458.70 900.30L464.20 905.80L458.70 911.30L453.20 905.80Z"/>
<path d="M474.00 901.10L479.50 906.60L474.00 912.10L468.50 906.60Z"/>
<path d="M443.40 905.40L448.90 910.90L443.40 916.40L437.90 910.90Z"/>
<path d="M455.60 907.30L461.10 912.80L455.60 918.30L450.10 912.80Z"/>
<path d="M461.90 906.60L467.40 912.10L461.90 917.60L456.40 912.10Z"/>
<path d="M467.70 906.60L473.20 912.10L467.70 917.60L462.20 912.10Z"/>
<path d="M449.00 903.50L454.50 909.00L449.00 914.50L443.50 909.00Z"/>
<line x1="430.10" y1="908.70" x2="481.90" y2="908.70" stroke-width="2.0"/>
<path d="M515.30 803.50L524.70 803.50L520.00 812.10Z"/>
<path d="M521.30 803.50L530.70 803.50L526.00 812.10Z"/>
<path d="M526.50 806.00L535.90 806.00L531.20 814.60Z"/>
<path d="M539.40 803.00L548.80 803.00L544.10 811.60Z"/>
<path d="M521.00 901.80L530.40 901.80L525.70 910.40Z"/>
<path d="M532.70 901.20L542.10 901.20L537.40 909.80Z"/>
<path d="M514.30 909.80L523.70 909.80L519.00 918.40Z"/>
<path d="M526.50 911.00L535.90 911.00L531.20 919.60Z"/>
<path d="M538.80 909.80L548.20 909.80L543.50 918.40Z"/>
<line x1="505.40" y1="864.50" x2="557.00" y2="864.50" stroke-width="2.1"/>
<line x1="517.70" y1="847.30" x2="544.70" y2="847.30" stroke-width="2.6"/>
<line x1="517.70" y1="883.50" x2="544.70" y2="883.50" stroke-width="2.6"/>
<line x1="531.20" y1="847.30" x2="531.20" y2="883.50" stroke-width="2.6"/>
<line x1="378.40" y1="775.40" x2="527.50" y2="775.40" stroke-width="1.7"/>
<path class="s" d="M450.90 769.90L450.90 766.50M450.90 769.90L454.13 768.85M450.90 769.90L452.90 772.65M450.90 769.90L448.90 772.65M450.90 769.90L447.67 768.85" fill="none" stroke-width="1.9" stroke-linecap="round"/>
<path class="s" d="M460.10 769.90L460.10 766.50M460.10 769.90L463.33 768.85M460.10 769.90L462.10 772.65M460.10 769.90L458.10 772.65M460.10 769.90L456.87 768.85" fill="none" stroke-width="1.9" stroke-linecap="round"/>
<line x1="463.80" y1="790.20" x2="525.30" y2="790.20" stroke-width="1.7"/>
<path class="s" d="M495.40 783.80L495.40 780.40M495.40 783.80L498.63 782.75M495.40 783.80L497.40 786.55M495.40 783.80L493.40 786.55M495.40 783.80L492.17 782.75" fill="none" stroke-width="1.9" stroke-linecap="round"/>
<line x1="307.80" y1="837.80" x2="369.60" y2="837.80" stroke-width="1.7"/>
<path class="s" d="M339.80 830.80L339.80 827.40M339.80 830.80L343.03 829.75M339.80 830.80L341.80 833.55M339.80 830.80L337.80 833.55M339.80 830.80L336.57 829.75" fill="none" stroke-width="1.9" stroke-linecap="round"/>
</svg>
</body></html>
